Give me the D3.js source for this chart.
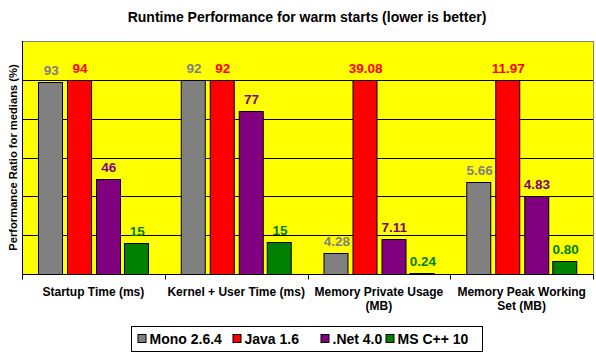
<!DOCTYPE html>
<html>
<head>
<meta charset="utf-8">
<script src="https://cdn.jsdelivr.net/npm/d3@7"></script>
<style>
  body { margin: 0; background: #fff; }
  text { font-family: "Liberation Sans", Arial, sans-serif; font-weight: bold; }
</style>
</head>
<body>
<svg id="chart"></svg>
<script>
// chart data
var categories = ["Startup Time (ms)", "Kernel + User Time (ms)", "Memory Private Usage (MB)", "Memory Peak Working Set (MB)"];
var categoryLines = [["Startup Time (ms)"], ["Kernel + User Time (ms)"], ["Memory Private Usage", "(MB)"], ["Memory Peak Working", "Set (MB)"]];
var decimals = [0, 0, 2, 2];
var series = ["Mono 2.6.4", "Java 1.6", ".Net 4.0", "MS C++ 10"];
var mono = [93, 92, 4.28, 5.66];
var java = [94, 92, 39.08, 11.97];
var dotnet = [46, 77, 7.11, 4.83];
var mscpp = [15, 15, 0.24, 0.80];
var colors = ["#808080", "#ff0000", "#800080", "#008000"];
var gridTicks = [20, 40, 60, 80, 100];

var width = 596, height = 354;
var plot = {left: 22, right: 593, top: 41, bottom: 274};

var svg = d3.select("#chart")
    .attr("width", width)
    .attr("height", height);

var values = [mono, java, dotnet, mscpp];

// each group is shown relative to its largest value
var rows = categories.map(function(c, i) {
  var vals = values.map(function(s) { return s[i]; });
  var max = d3.max(vals);
  return vals.map(function(v, j) {
    return {cat: c, ci: i, series: j, value: v, pct: v / max * 100};
  });
});

var x0 = d3.scaleBand()
    .domain(categories)
    .range([plot.left, plot.right]);

var x1 = d3.scaleBand()
    .domain(d3.range(series.length))
    .range([0, x0.bandwidth()])
    .paddingInner(0.16)
    .paddingOuter(0.57);

var y = d3.scaleLinear()
    .domain([0, 120])
    .range([plot.bottom, plot.top]);

// plot area
svg.append("rect")
    .attr("x", plot.left + 0.5)
    .attr("y", plot.top + 0.5)
    .attr("width", plot.right - plot.left)
    .attr("height", plot.bottom - plot.top)
    .style("fill", "#ffff00")
    .style("stroke", "#808080");

svg.selectAll("line.grid")
    .data(gridTicks)
    .enter().append("line")
    .attr("class", "grid")
    .attr("x1", plot.left)
    .attr("x2", plot.right)
    .attr("y1", function(d) { return Math.round(y(d)) + 0.5; })
    .attr("y2", function(d) { return Math.round(y(d)) + 0.5; })
    .style("stroke", "#000");

svg.append("line")
    .attr("x1", plot.left + 0.5).attr("x2", plot.left + 0.5)
    .attr("y1", plot.top).attr("y2", plot.bottom)
    .style("stroke", "#000");

// bars
var group = svg.selectAll("g.group")
    .data(rows)
    .enter().append("g")
    .attr("class", "group")
    .attr("transform", function(d, i) { return "translate(" + x0(categories[i]) + ",0)"; });

group.selectAll("rect")
    .data(function(d) { return d; })
    .enter().append("rect")
    .attr("x", function(d) { return Math.round(x1(d.series)) + 0.5; })
    .attr("y", function(d) { return Math.round(y(d.pct)) + 0.5; })
    .attr("width", Math.round(x1.bandwidth()))
    .attr("height", function(d) { return Math.max(0, plot.bottom - Math.round(y(d.pct))); })
    .style("fill", function(d) { return colors[d.series]; })
    .style("stroke", "#000");

group.selectAll("text")
    .data(function(d) { return d; })
    .enter().append("text")
    .attr("x", function(d) { return x1(d.series) + x1.bandwidth() / 2 + 1; })
    .attr("y", function(d) { return y(d.pct) - 7; })
    .attr("text-anchor", "middle")
    .style("font-size", "13.5px")
    .style("fill", function(d) { return colors[d.series]; })
    .text(function(d) { return d.value.toFixed(decimals[d.ci]); });

// x axis
var xAxis = svg.append("g")
    .attr("transform", "translate(0," + (plot.bottom + 0.5) + ")");

xAxis.append("line")
    .attr("x1", plot.left).attr("x2", plot.right + 1)
    .style("stroke", "#000");

var tickX = categories.map(function(c) { return x0(c); }).concat([plot.right]);
xAxis.selectAll("line.tick")
    .data(tickX)
    .enter().append("line")
    .attr("class", "tick")
    .attr("x1", function(d) { return Math.round(d) + 0.5; })
    .attr("x2", function(d) { return Math.round(d) + 0.5; })
    .attr("y1", 0).attr("y2", 5)
    .style("stroke", "#000");

var xl = svg.selectAll("text.xlabel")
    .data(categoryLines)
    .enter().append("text")
    .attr("class", "xlabel")
    .attr("text-anchor", "middle")
    .style("font-size", "12px")
    .attr("transform", function(d, i) {
      return "translate(" + (x0(categories[i]) + x0.bandwidth() / 2) + ",296)";
    });

xl.selectAll("tspan")
    .data(function(d) { return d; })
    .enter().append("tspan")
    .attr("x", 0)
    .attr("dy", function(d, i) { return i ? 14 : 0; })
    .text(function(d) { return d; });

// titles
svg.append("text")
    .attr("x", 307)
    .attr("y", 22)
    .attr("text-anchor", "middle")
    .style("font-size", "14px")
    .text("Runtime Performance for warm starts (lower is better)");

svg.append("text")
    .attr("transform", "translate(16.5," + ((plot.top + plot.bottom) / 2) + ") rotate(-90)")
    .attr("text-anchor", "middle")
    .style("font-size", "11.2px")
    .text("Performance Ratio for medians (%)");

// legend
var legendX = [6.5, 101.5, 189.5, 254.5];
var legend = svg.append("g")
    .attr("transform", "translate(131,326)");

legend.append("rect")
    .attr("x", 0.5).attr("y", 0.5)
    .attr("width", 351).attr("height", 25)
    .style("fill", "#fff")
    .style("stroke", "#000");

var item = legend.selectAll("g.item")
    .data(series)
    .enter().append("g")
    .attr("class", "item")
    .attr("transform", function(d, i) { return "translate(" + legendX[i] + ",0)"; });

item.append("rect")
    .attr("x", 0.5).attr("y", 8.5)
    .attr("width", 8).attr("height", 8)
    .style("fill", function(d, i) { return colors[i]; })
    .style("stroke", "#000");

item.append("text")
    .attr("x", 12)
    .attr("y", 17.5)
    .style("font-size", "14px")
    .text(function(d) { return d; });
</script>
</body>
</html>
